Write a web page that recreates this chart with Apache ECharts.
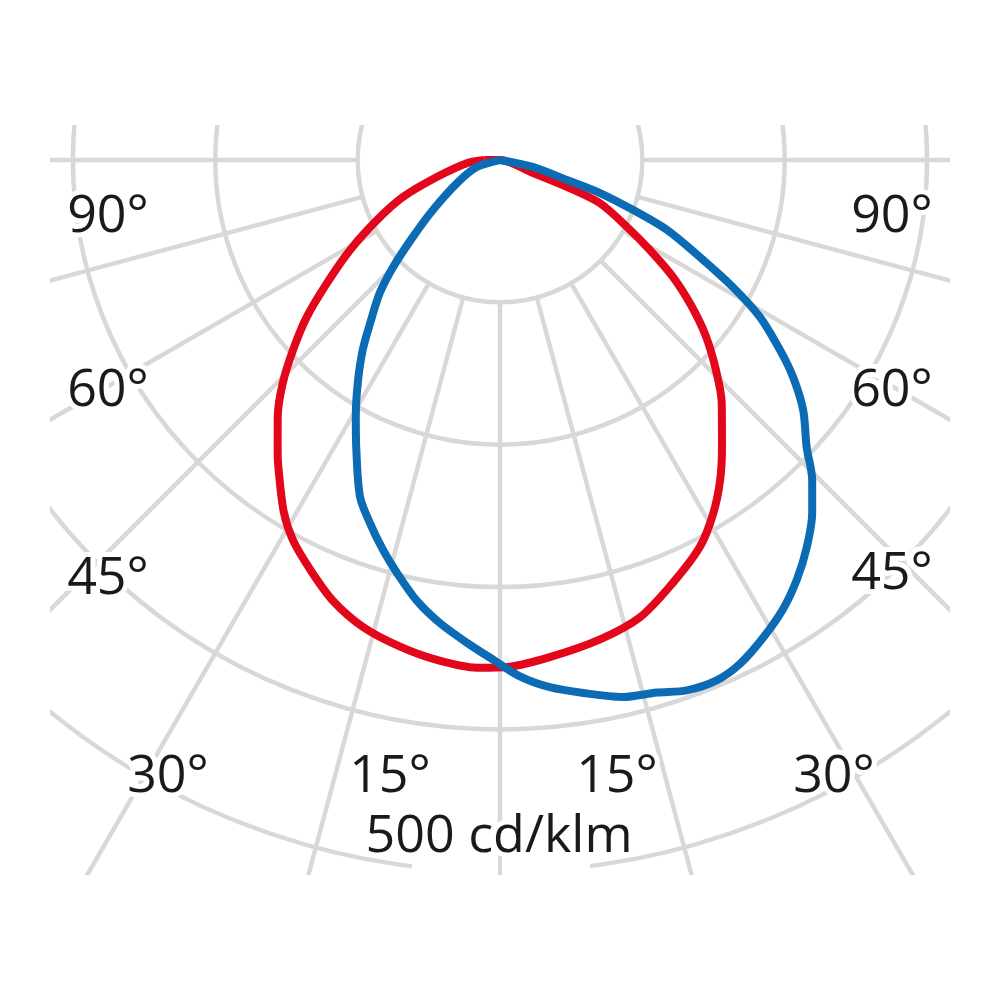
<!DOCTYPE html>
<html>
<head>
<meta charset="utf-8">
<script src="https://cdn.jsdelivr.net/npm/echarts@6/dist/echarts.min.js"></script>
<style>
  html, body { margin: 0; padding: 0; background: #ffffff; }
  #chart { width: 1000px; height: 1000px; }
</style>
</head>
<body>
<div id="chart"></div>
<script>
// Angles in degrees from nadir (negative = left half, positive = right half), values in cd/klm
var redAngles = [-90,-84.8,-74.9,-69.1,-64.0,-59.0,-54.6,-50.9,-47.5,-44.2,-40.8,-37.6,-36.2,-31.6,-28.6,-24.9,-20.8,-16.3,-11.6,-7.2,-2.6,1.1,5.7,11.8,17.0,22.2,27.3,31.1,34.5,37.7,42.4,45.9,49.5,52.7,55.9,59.0,62.2,66.7,68.1,68.5,90];
var redValues = [11,23,46,73,96,123,149,175,197,219,239,256,264,290,304,317,331,342,349,354,357,356,351,344,336,321,306,290,273,255,231,211,190,169,147,123,101,76,51,25,0];

var blueAngles = [-90,-73.1,-61.9,-53.3,-48.5,-45.0,-42.1,-38.6,-35.8,-32.5,-29.3,-26.4,-22.6,-19.7,-16.7,-14.0,-10.7,-7.4,-3.9,-0.8,2.2,5.4,8.9,12.9,16.4,19.4,22.6,25.5,28.9,32.2,35.3,38.4,41.5,44.3,46.9,50.5,53.5,55.8,58.9,61.4,64.1,67.3,69.4,71.7,73.4,78.0,90];
var blueValues = [0,17,34,59,82,106,126,146,165,186,207,227,256,271,286,299,315,328,340,351,363,372,379,387,390,395,396,392,383,373,361,347,331,314,295,276,256,238,213,186,156,127,100,74,49,24,0];

// Grid rings (cd/klm) and spoke step
var ringMin = 100, ringMax = 600, ringStep = 100;
var spokeStep = 15;

// Angle labels
var leftSideLabels = ['90°', '60°', '45°'];
var rightSideLabels = ['90°', '60°', '45°'];
var bottomLabels = ['30°', '15°', '15°', '30°'];
var scaleLabel = '500 cd/klm';

var CX = 500, CY = 160, PX_PER_100 = 142.35;

function toData(angles, values) {
  var d = angles.map(function (a, i) { return [values[i], a]; });
  d.push(d[0]);
  return d;
}

var chart = echarts.init(document.getElementById('chart'), null, { renderer: 'canvas' });

var gridLine = { color: '#d8d8d8', width: 4.5 };
var labelFont = "52px 'Open Sans'";
function label(text, x, y) {
  return {
    type: 'text', x: x, y: y, z: 200,
    style: {
      text: text, font: labelFont, fill: '#1a1a1a',
      stroke: '#ffffff', lineWidth: 10,
      align: 'center', verticalAlign: 'middle'
    }
  };
}
function whiteRect(x, y, w, h) {
  return { type: 'rect', z: 150, shape: { x: x, y: y, width: w, height: h },
           style: { fill: '#ffffff' }, silent: true };
}

var option = {
  backgroundColor: '#ffffff',
  animation: false,
  polar: [
    { center: [CX, CY], radius: [PX_PER_100 * ringMin / 100, PX_PER_100 * ringMax / 100] },
    { center: [CX, CY], radius: [0, PX_PER_100 * 5] }
  ],
  angleAxis: [
    { polarIndex: 0, type: 'value', min: 0, max: 360, interval: spokeStep, startAngle: 90,
      axisLine: { show: false }, axisTick: { show: false }, axisLabel: { show: false },
      splitLine: { show: true, lineStyle: gridLine } },
    { polarIndex: 1, type: 'value', min: -180, max: 180, startAngle: 90, clockwise: false,
      axisLine: { show: false }, axisTick: { show: false }, axisLabel: { show: false },
      splitLine: { show: false } }
  ],
  radiusAxis: [
    { polarIndex: 0, type: 'value', min: ringMin, max: ringMax, interval: ringStep,
      axisLine: { show: false }, axisTick: { show: false }, axisLabel: { show: false },
      splitLine: { show: true, lineStyle: gridLine } },
    { polarIndex: 1, type: 'value', min: 0, max: 500,
      axisLine: { show: false }, axisTick: { show: false }, axisLabel: { show: false },
      splitLine: { show: false } }
  ],
  series: [
    { type: 'line', coordinateSystem: 'polar', polarIndex: 1, data: toData(redAngles, redValues),
      showSymbol: false, symbol: 'none', smooth: 0.3, z: 3,
      lineStyle: { color: '#e2071b', width: 8 } },
    { type: 'line', coordinateSystem: 'polar', polarIndex: 1, data: toData(blueAngles, blueValues),
      showSymbol: false, symbol: 'none', smooth: 0.3, z: 4,
      lineStyle: { color: '#0b6bb5', width: 8 } }
  ],
  graphic: [
    whiteRect(0, 0, 1000, 125),
    whiteRect(0, 875, 1000, 125),
    whiteRect(0, 0, 50, 1000),
    whiteRect(950, 0, 50, 1000),
    whiteRect(412, 857, 86, 18),
    whiteRect(502, 857, 88, 18),
    label(leftSideLabels[0], 108, 217),
    label(leftSideLabels[1], 108, 391),
    label(leftSideLabels[2], 108, 579),
    label(rightSideLabels[0], 892, 217),
    label(rightSideLabels[1], 892, 391),
    label(rightSideLabels[2], 892, 574),
    label(bottomLabels[0], 168, 777),
    label(bottomLabels[1], 390, 777),
    label(bottomLabels[2], 617, 777),
    label(bottomLabels[3], 834, 777),
    label(scaleLabel, 499, 837)
  ]
};
chart.setOption(option);
</script>
</body>
</html>
